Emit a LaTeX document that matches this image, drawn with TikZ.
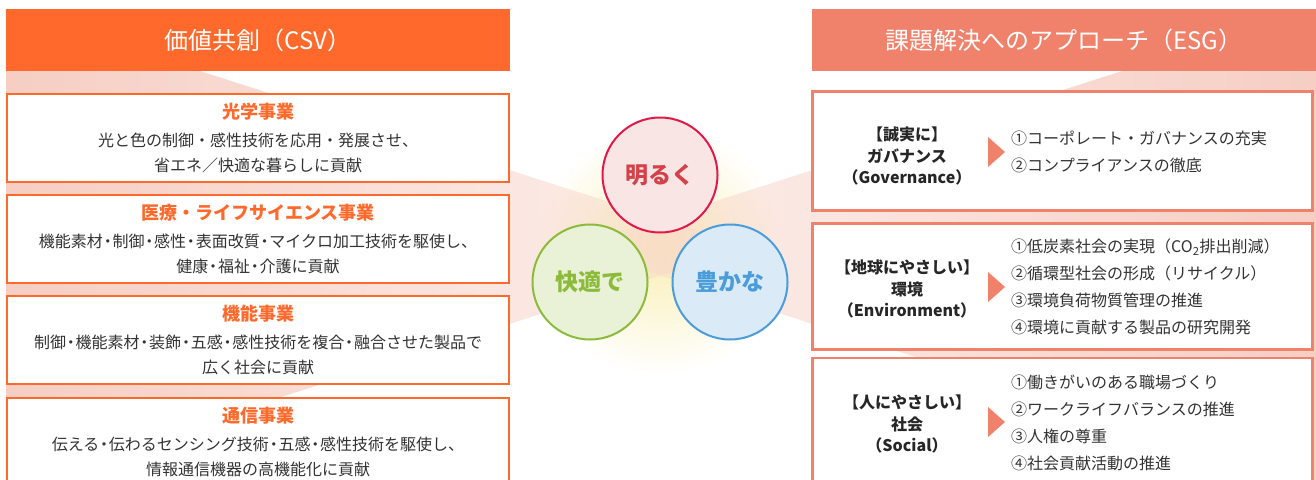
\documentclass[tikz,border=0pt]{standalone}
\usepackage{fontspec}
\setmainfont{Noto Sans CJK JP}
\usetikzlibrary{positioning,fadings}
\definecolor{csvorange}{HTML}{FF6A2C}
\definecolor{esgsalmon}{HTML}{F0826C}
\definecolor{fanpink}{HTML}{E98A70}
\definecolor{fanlight}{HTML}{FAE0D8}
\definecolor{glowyellow}{HTML}{F9EFB4}
\definecolor{brightred}{HTML}{E0194A}
\definecolor{brighttext}{HTML}{D3424B}
\definecolor{brightfill}{HTML}{F8E5E4}
\definecolor{comfygreen}{HTML}{8CBB3C}
\definecolor{comfyfill}{HTML}{E9F1D6}
\definecolor{richblue}{HTML}{4A9CDB}
\definecolor{richfill}{HTML}{DAEAF6}
\definecolor{bodytext}{HTML}{333333}
\tikzfading[name=glowfade, inner color=transparent!0, outer color=transparent!100]
\newcommand{\dt}{\kern-0.2em・\kern-0.2em}

\begin{document}
\begin{tikzpicture}[x=1pt, y=-1pt,
	head/.style={minimum width=504pt, minimum height=62pt, inner sep=0pt, text=white, font=\fontsize{24}{28}\selectfont},
	csvbox/.style={draw=csvorange, line width=2pt, fill=white, minimum width=502pt, minimum height=88pt, inner sep=0pt, align=center, text=bodytext, font=\fontsize{16}{25}\selectfont},
	esgbox/.style={draw=esgsalmon, line width=2.2pt, fill=white, minimum width=500pt, inner sep=0pt},
	esglabel/.style={align=center, inner sep=0pt, text=black!85, font=\bfseries\fontsize{16}{21.5}\selectfont},
	esglist/.style={anchor=west, align=left, inner sep=0pt, text=bodytext, font=\fontsize{16}{27}\selectfont},
	value/.style={circle, line width=2pt, minimum size=115pt, inner sep=0pt, font=\bfseries\fontsize{23}{26}\selectfont}]
	\useasboundingbox (0,0) rectangle (1316,479);
	% glow and the two fans
	\fill[glowyellow, path fading=glowfade] (660,250) circle (125);
	\shade[left color=fanpink, right color=fanlight, fill opacity=0.42] (6,9) -- (750,247) -- (6,485) -- cycle;
	\shade[left color=fanlight, right color=fanpink, fill opacity=0.42] (1316,9) -- (572,247) -- (1316,485) -- cycle;
	% CSV side
	\node[head, fill=csvorange] (csvhead) at (258,40) {価値共創（CSV）};
	\node[csvbox] (csv1) at (258,137.5) {{\color{csvorange}\bfseries\fontsize{18}{25}\selectfont 光学事業}\\[3pt]光と色の制御・感性技術を応用・発展させ、\\省エネ／快適な暮らしに貢献};
	\node[csvbox] (csv2) at (258,238.5) {{\color{csvorange}\bfseries\fontsize{18}{25}\selectfont 医療・ライフサイエンス事業}\\[3pt]機能素材\dt 制御\dt 感性\dt 表面改質\dt マイクロ加工技術を駆使し、\\健康\dt 福祉\dt 介護に貢献};
	\node[csvbox] (csv3) at (258,339.5) {{\color{csvorange}\bfseries\fontsize{18}{25}\selectfont 機能事業}\\[3pt]制御\dt 機能素材\dt 装飾\dt 五感\dt 感性技術を複合\dt 融合させた製品で\\広く社会に貢献};
	\node[csvbox] (csv4) at (258,441.5) {{\color{csvorange}\bfseries\fontsize{18}{25}\selectfont 通信事業}\\[3pt]伝える\dt 伝わるセンシング技術\dt 五感\dt 感性技術を駆使し、\\情報通信機器の高機能化に貢献};
	% ESG side
	\node[head, fill=esgsalmon] (esghead) at (1064,40) {課題解決へのアプローチ（ESG）};
	\node[esgbox, minimum height=119pt] (esg1) at (1062.5,151) {};
	\node[esgbox, minimum height=126pt] (esg2) at (1062.5,286.5) {};
	\node[esgbox, minimum height=127pt] (esg3) at (1062.5,421.5) {};
	\node[esglabel] (gov) at (907,156) {【誠実に】\\ガバナンス\\（Governance）};
	\node[esglabel] (env) at (907,289) {【地球にやさしい】\\環境\\（Environment）};
	\node[esglabel] (soc) at (907,424) {【人にやさしい】\\社会\\（Social）};
	\foreach \yc in {152,287,422}
		\fill[esgsalmon] (988,\yc-15) -- (1005,\yc) -- (988,\yc+15) -- cycle;
	\node[esglist] (govlist) at (1011,152) {①コーポレート・ガバナンスの充実\\②コンプライアンスの徹底};
	\node[esglist] (envlist) at (1011,287) {①低炭素社会の実現（CO\textsubscript{2}排出削減）\\②循環型社会の形成（リサイクル）\\③環境負荷物質管理の推進\\④環境に貢献する製品の研究開発};
	\node[esglist] (soclist) at (1011,423) {①働きがいのある職場づくり\\②ワークライフバランスの推進\\③人権の尊重\\④社会貢献活動の推進};
	% the three values
	\node[value, draw=brightred, fill=brightfill, text=brighttext] (bright) at (660,175) {明るく};
	\node[value, draw=comfygreen, fill=comfyfill, text=comfygreen] (comfy) at (590,282) {快適で};
	\node[value, draw=richblue, fill=richfill, text=richblue] (rich) at (730,282) {豊かな};
\end{tikzpicture}
\end{document}
